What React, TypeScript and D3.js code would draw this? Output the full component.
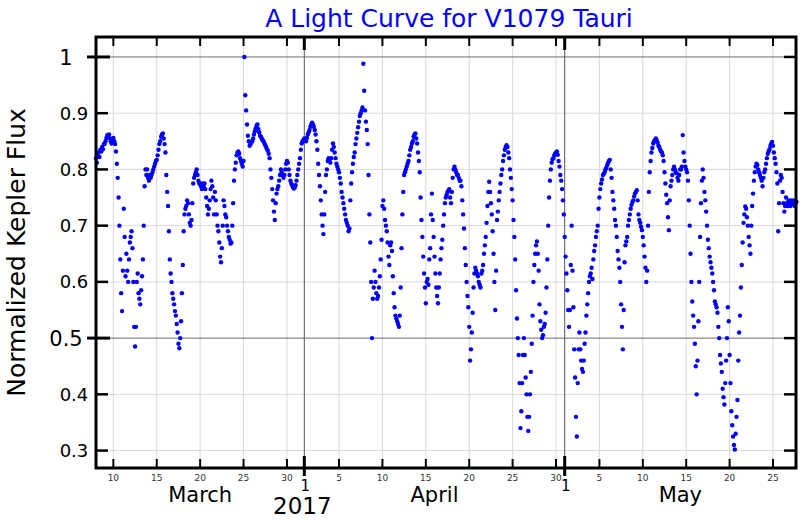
import React from 'react'
import * as d3 from 'd3'

const title = 'A Light Curve for V1079 Tauri'
const yAxisLabel = 'Normalized Kepler Flux'
const yearLabel = '2017'

// time series: one flux reading every 0.1 day from March 8, 2017
const startDate = '2017-03-08'
const cadenceDays = 0.1
const spanDays = 80.65

const flux = [
  0.82, 0.812, 0.825, 0.83, 0.822, 0.835, 0.832, 0.84, 0.836, 0.845,
  0.845, 0.85, 0.856, 0.861, 0.858, 0.862, 0.855, 0.85, 0.846, 0.852,
  0.856, 0.85, 0.845, 0.832, 0.81, 0.785, 0.75, 0.7, 0.64, 0.58,
  0.548, 0.62, 0.73, 0.68, 0.61, 0.65, 0.62, 0.6, 0.64, 0.67,
  0.68, 0.69, 0.66, 0.6, 0.52, 0.485, 0.52, 0.6, 0.615, 0.58,
  0.57, 0.56, 0.585, 0.61, 0.64, 0.7, 0.77, 0.8, 0.79, 0.8,
  0.785, 0.78, 0.79, 0.785, 0.79, 0.795, 0.8, 0.805, 0.81, 0.815,
  0.817, 0.825, 0.835, 0.845, 0.85, 0.858, 0.862, 0.864, 0.855, 0.845,
  0.83, 0.79, 0.76, 0.735, 0.69, 0.64, 0.615, 0.6, 0.58, 0.57,
  0.56, 0.548, 0.54, 0.525, 0.51, 0.49, 0.482, 0.5, 0.53, 0.58,
  0.63, 0.69, 0.72, 0.73, 0.735, 0.745, 0.74, 0.72, 0.705, 0.7,
  0.71, 0.74, 0.775, 0.785, 0.79, 0.795, 0.8, 0.79, 0.78, 0.775,
  0.775, 0.77, 0.765, 0.775, 0.77, 0.775, 0.765, 0.75, 0.735, 0.72,
  0.73, 0.745, 0.765, 0.78, 0.77, 0.75, 0.72, 0.76, 0.745, 0.72,
  0.7, 0.69, 0.67, 0.645, 0.635, 0.66, 0.7, 0.745, 0.735, 0.72,
  0.715, 0.7, 0.69, 0.68, 0.675, 0.668, 0.67, 0.7, 0.74, 0.78,
  0.8, 0.812, 0.825, 0.83, 0.832, 0.828, 0.82, 0.815, 0.81, 0.805,
  0.815, 1.0, 0.932, 0.905, 0.88, 0.86, 0.85, 0.842, 0.845, 0.848,
  0.85, 0.855, 0.862, 0.868, 0.873, 0.878, 0.88, 0.872, 0.866, 0.86,
  0.858, 0.855, 0.852, 0.85, 0.846, 0.843, 0.84, 0.836, 0.833, 0.828,
  0.82, 0.8, 0.785, 0.765, 0.745, 0.725, 0.71, 0.74, 0.757, 0.765,
  0.77, 0.78, 0.79, 0.8, 0.795, 0.79, 0.785, 0.79, 0.8, 0.81,
  0.815, 0.812, 0.8, 0.79, 0.78, 0.775, 0.772, 0.768, 0.766, 0.768,
  0.772, 0.78, 0.79, 0.8, 0.81, 0.82, 0.835, 0.846, 0.85, 0.852,
  0.855, 0.852, 0.85, 0.856, 0.862, 0.866, 0.87, 0.876, 0.88, 0.883,
  0.88, 0.876, 0.87, 0.862, 0.85, 0.835, 0.81, 0.79, 0.77, 0.745,
  0.72, 0.7, 0.685, 0.72, 0.76, 0.79, 0.8, 0.815, 0.82, 0.815,
  0.812, 0.82, 0.835, 0.846, 0.84, 0.83, 0.82, 0.81, 0.805, 0.8,
  0.795, 0.785, 0.775, 0.76, 0.75, 0.74, 0.73, 0.72, 0.71, 0.705,
  0.7, 0.69, 0.695, 0.745, 0.775, 0.795, 0.81, 0.822, 0.83, 0.845,
  0.855, 0.865, 0.875, 0.885, 0.895, 0.9, 0.905, 0.91, 0.988, 0.94,
  0.905, 0.885, 0.87, 0.845, 0.79, 0.72, 0.67, 0.6, 0.5, 0.57,
  0.59, 0.62, 0.6, 0.58, 0.57, 0.575, 0.59, 0.61, 0.64, 0.675,
  0.735, 0.745, 0.73, 0.71, 0.7, 0.69, 0.67, 0.645, 0.63, 0.665,
  0.67, 0.655, 0.61, 0.58, 0.555, 0.54, 0.535, 0.53, 0.525, 0.52,
  0.54, 0.59, 0.66, 0.72, 0.76, 0.79, 0.795, 0.8, 0.805, 0.81,
  0.815, 0.825, 0.835, 0.84, 0.846, 0.85, 0.858, 0.862, 0.864, 0.855,
  0.846, 0.83, 0.815, 0.795, 0.75, 0.71, 0.68, 0.645, 0.615, 0.59,
  0.562, 0.6, 0.605, 0.595, 0.64, 0.66, 0.72, 0.757, 0.71, 0.68,
  0.645, 0.615, 0.59, 0.575, 0.562, 0.59, 0.615, 0.64, 0.66, 0.675,
  0.7, 0.72, 0.74, 0.75, 0.755, 0.76, 0.762, 0.765, 0.75, 0.74,
  0.76, 0.785, 0.8, 0.805, 0.8, 0.795, 0.79, 0.79, 0.785, 0.78,
  0.78, 0.77, 0.745, 0.72, 0.695, 0.66, 0.63, 0.6, 0.575, 0.555,
  0.52, 0.46, 0.48, 0.51, 0.545, 0.59, 0.615, 0.625, 0.62, 0.615,
  0.61, 0.6, 0.595, 0.59, 0.615, 0.62, 0.63, 0.65, 0.665, 0.68,
  0.705, 0.735, 0.76, 0.778, 0.76, 0.74, 0.72, 0.69, 0.65, 0.6,
  0.55, 0.62, 0.71, 0.725, 0.745, 0.76, 0.775, 0.79, 0.8, 0.815,
  0.825, 0.835, 0.84, 0.843, 0.84, 0.83, 0.82, 0.8, 0.785, 0.765,
  0.745, 0.71, 0.68, 0.64, 0.585, 0.535, 0.5, 0.47, 0.42, 0.34,
  0.37, 0.42, 0.47, 0.5, 0.47, 0.43, 0.4, 0.36, 0.335, 0.36,
  0.4, 0.44, 0.49, 0.54, 0.6, 0.63, 0.65, 0.665, 0.672, 0.65,
  0.62, 0.56, 0.53, 0.515, 0.5, 0.505, 0.52, 0.525, 0.545, 0.59,
  0.64, 0.7, 0.75, 0.78, 0.8, 0.812, 0.818, 0.82, 0.825, 0.828,
  0.83, 0.832, 0.826, 0.815, 0.805, 0.79, 0.78, 0.765, 0.745, 0.72,
  0.68, 0.645, 0.615, 0.585, 0.55, 0.52, 0.55, 0.63, 0.7, 0.62,
  0.555, 0.48, 0.43, 0.36, 0.325, 0.42, 0.48, 0.51, 0.48, 0.46,
  0.445, 0.44, 0.46, 0.49, 0.51, 0.54, 0.56, 0.58, 0.6, 0.61,
  0.615, 0.625, 0.605, 0.64, 0.655, 0.665, 0.68, 0.69, 0.7, 0.73,
  0.75, 0.765, 0.775, 0.782, 0.79, 0.792, 0.795, 0.8, 0.803, 0.808,
  0.812, 0.815, 0.817, 0.8, 0.785, 0.76, 0.745, 0.73, 0.71, 0.7,
  0.68, 0.655, 0.64, 0.625, 0.6, 0.56, 0.52, 0.48, 0.55, 0.635,
  0.665, 0.672, 0.68, 0.7, 0.71, 0.72, 0.73, 0.737, 0.742, 0.745,
  0.752, 0.757, 0.76, 0.763, 0.745, 0.72, 0.71, 0.705, 0.698, 0.692,
  0.68, 0.665, 0.645, 0.625, 0.6, 0.62, 0.7, 0.76, 0.795, 0.815,
  0.83, 0.838, 0.846, 0.85, 0.852, 0.855, 0.852, 0.848, 0.842, 0.84,
  0.835, 0.832, 0.83, 0.825, 0.815, 0.795, 0.775, 0.755, 0.74, 0.715,
  0.692, 0.745, 0.77, 0.78, 0.79, 0.8, 0.805, 0.8, 0.795, 0.793,
  0.785, 0.78, 0.79, 0.8, 0.8, 0.805, 0.861, 0.83, 0.815, 0.805,
  0.8, 0.795, 0.78, 0.745, 0.7, 0.65, 0.6, 0.565, 0.54, 0.52,
  0.49, 0.45, 0.4, 0.46, 0.53, 0.6, 0.68, 0.74, 0.78, 0.8,
  0.785, 0.76, 0.745, 0.725, 0.7, 0.675, 0.66, 0.645, 0.635, 0.625,
  0.615, 0.6, 0.585, 0.565, 0.56, 0.555, 0.545, 0.52, 0.5, 0.47,
  0.455, 0.44, 0.41, 0.395, 0.382, 0.42, 0.46, 0.5, 0.555, 0.53,
  0.47, 0.42, 0.37, 0.345, 0.325, 0.31, 0.302, 0.33, 0.36, 0.39,
  0.46, 0.51, 0.54, 0.59, 0.63, 0.67, 0.705, 0.72, 0.734, 0.73,
  0.715, 0.7, 0.68, 0.665, 0.65, 0.7, 0.735, 0.757, 0.78, 0.795,
  0.805, 0.81, 0.808, 0.8, 0.795, 0.79, 0.785, 0.78, 0.77, 0.785,
  0.795, 0.8, 0.81, 0.82, 0.828, 0.832, 0.836, 0.842, 0.846, 0.849,
  0.842, 0.83, 0.82, 0.81, 0.795, 0.775, 0.69, 0.74, 0.78, 0.79,
  0.785, 0.76, 0.74, 0.725, 0.735, 0.75, 0.74, 0.735, 0.745, 0.74,
  0.735, 0.745, 0.738, 0.74, 0.745, 0.735, 0.74, 0.742,
]

const fluxDomain = [0.269, 1.0355]
const fluxTicks = [0.3, 0.4, 0.5, 0.6, 0.7, 0.8, 0.9, 1]
const majorFluxTicks = [0.5, 1]

const dayTicks = [
  '2017-03-10', '2017-03-15', '2017-03-20', '2017-03-25', '2017-03-30',
  '2017-04-05', '2017-04-10', '2017-04-15', '2017-04-20', '2017-04-25', '2017-04-30',
  '2017-05-05', '2017-05-10', '2017-05-15', '2017-05-20', '2017-05-25',
]
const monthStarts = ['2017-04-01', '2017-05-01']
const monthNames = ['March', 'April', 'May']

const DAY = 864e5
const FONT = '"DejaVu Sans", sans-serif'

export default function App() {
  const width = 800
  const height = 520
  const margin = { top: 37, right: 4, bottom: 52, left: 96 }
  const innerBottom = height - margin.bottom
  const innerRight = width - margin.right

  const parse = d3.utcParse('%Y-%m-%d')
  const t0 = parse(startDate) as Date
  const t1 = new Date(t0.getTime() + spanDays * DAY)

  const x = d3.scaleUtc().domain([t0, t1]).range([margin.left, innerRight])
  const y = d3.scaleLinear().domain(fluxDomain).range([innerBottom, margin.top])

  const points = flux.map((v, i) => ({ t: new Date(t0.getTime() + i * cadenceDays * DAY), v }))
  const ticks = dayTicks.map(s => parse(s) as Date)
  const months = monthStarts.map(s => parse(s) as Date)
  const bounds = [t0, ...months, t1]
  const dayFmt = d3.utcFormat('%-d')

  return (
    <svg width={width} height={height} style={{ position: 'absolute', left: 0, top: 0, background: '#fff' }}
      fontFamily={FONT}>
      <rect x={0} y={0} width={width} height={height} fill="#fff" />

      {/* grid */}
      {fluxTicks.filter(v => !majorFluxTicks.includes(v)).map(v => (
        <line key={'hg' + v} x1={margin.left} x2={innerRight} y1={y(v)} y2={y(v)} stroke="#d9d9d9" strokeWidth={1} />
      ))}
      {ticks.map(t => (
        <line key={'vg' + t.getTime()} x1={x(t)} x2={x(t)} y1={margin.top} y2={innerBottom} stroke="#d9d9d9" strokeWidth={1} />
      ))}
      {majorFluxTicks.map(v => (
        <line key={'hm' + v} x1={margin.left} x2={innerRight} y1={y(v)} y2={y(v)} stroke="#6e6e6e" strokeWidth={1} />
      ))}
      {months.map(t => (
        <line key={'vm' + t.getTime()} x1={x(t)} x2={x(t)} y1={margin.top} y2={innerBottom} stroke="#555" strokeWidth={1} />
      ))}

      {/* data */}
      <g fill="#0000ff">
        {points.map((p, i) => (
          <circle key={i} cx={x(p.t)} cy={y(p.v)} r={2.2} />
        ))}
      </g>

      {/* frame */}
      <rect x={margin.left} y={margin.top} width={innerRight - margin.left} height={innerBottom - margin.top}
        fill="none" stroke="#000" strokeWidth={3} />

      {/* y ticks, both sides */}
      {fluxTicks.map(v => {
        const major = majorFluxTicks.includes(v)
        return (
          <g key={'yt' + v}>
            <line x1={major ? margin.left - 9 : margin.left} x2={margin.left + (major ? 14 : 12)} y1={y(v)} y2={y(v)}
              stroke="#000" strokeWidth={major ? 3 : 2.5} />
            <line x1={innerRight - 12} x2={innerRight} y1={y(v)} y2={y(v)} stroke="#000" strokeWidth={2.5} />
            <text x={major ? 66 : 74} y={y(v)} dy="0.36em" textAnchor="middle" fontSize={major ? 21 : 18} fill="#000">
              {String(v)}
            </text>
          </g>
        )
      })}

      {/* x ticks, top and bottom */}
      {ticks.map(t => (
        <g key={'xt' + t.getTime()}>
          <line x1={x(t)} x2={x(t)} y1={innerBottom - 9} y2={innerBottom} stroke="#000" strokeWidth={2} />
          <line x1={x(t)} x2={x(t)} y1={margin.top} y2={margin.top + 9} stroke="#000" strokeWidth={2} />
          <text x={x(t)} y={481} textAnchor="middle" fontSize={9} fill="#333">{dayFmt(t)}</text>
        </g>
      ))}
      {months.map(t => (
        <g key={'mt' + t.getTime()}>
          <line x1={x(t)} x2={x(t)} y1={innerBottom - 12} y2={innerBottom + 8} stroke="#000" strokeWidth={3} />
          <line x1={x(t)} x2={x(t)} y1={margin.top} y2={margin.top + 13} stroke="#000" strokeWidth={3} />
          <text x={x(t) + 1} y={491} textAnchor="middle" fontSize={15} fill="#000">{dayFmt(t)}</text>
        </g>
      ))}
      {monthNames.map((name, i) => (
        <text key={name} x={(x(bounds[i]) + x(bounds[i + 1])) / 2} y={502} textAnchor="middle" fontSize={21} fill="#000">
          {name}
        </text>
      ))}
      <text x={x(months[0]) - 2} y={514} textAnchor="middle" fontSize={23} fill="#000">{yearLabel}</text>

      {/* titles */}
      <text x={449} y={27} textAnchor="middle" fontSize={25} fill="#0000ff">{title}</text>
      <text transform={`translate(25,${(margin.top + innerBottom) / 2}) rotate(-90)`} textAnchor="middle"
        fontSize={25} fill="#000">{yAxisLabel}</text>
    </svg>
  )
}
